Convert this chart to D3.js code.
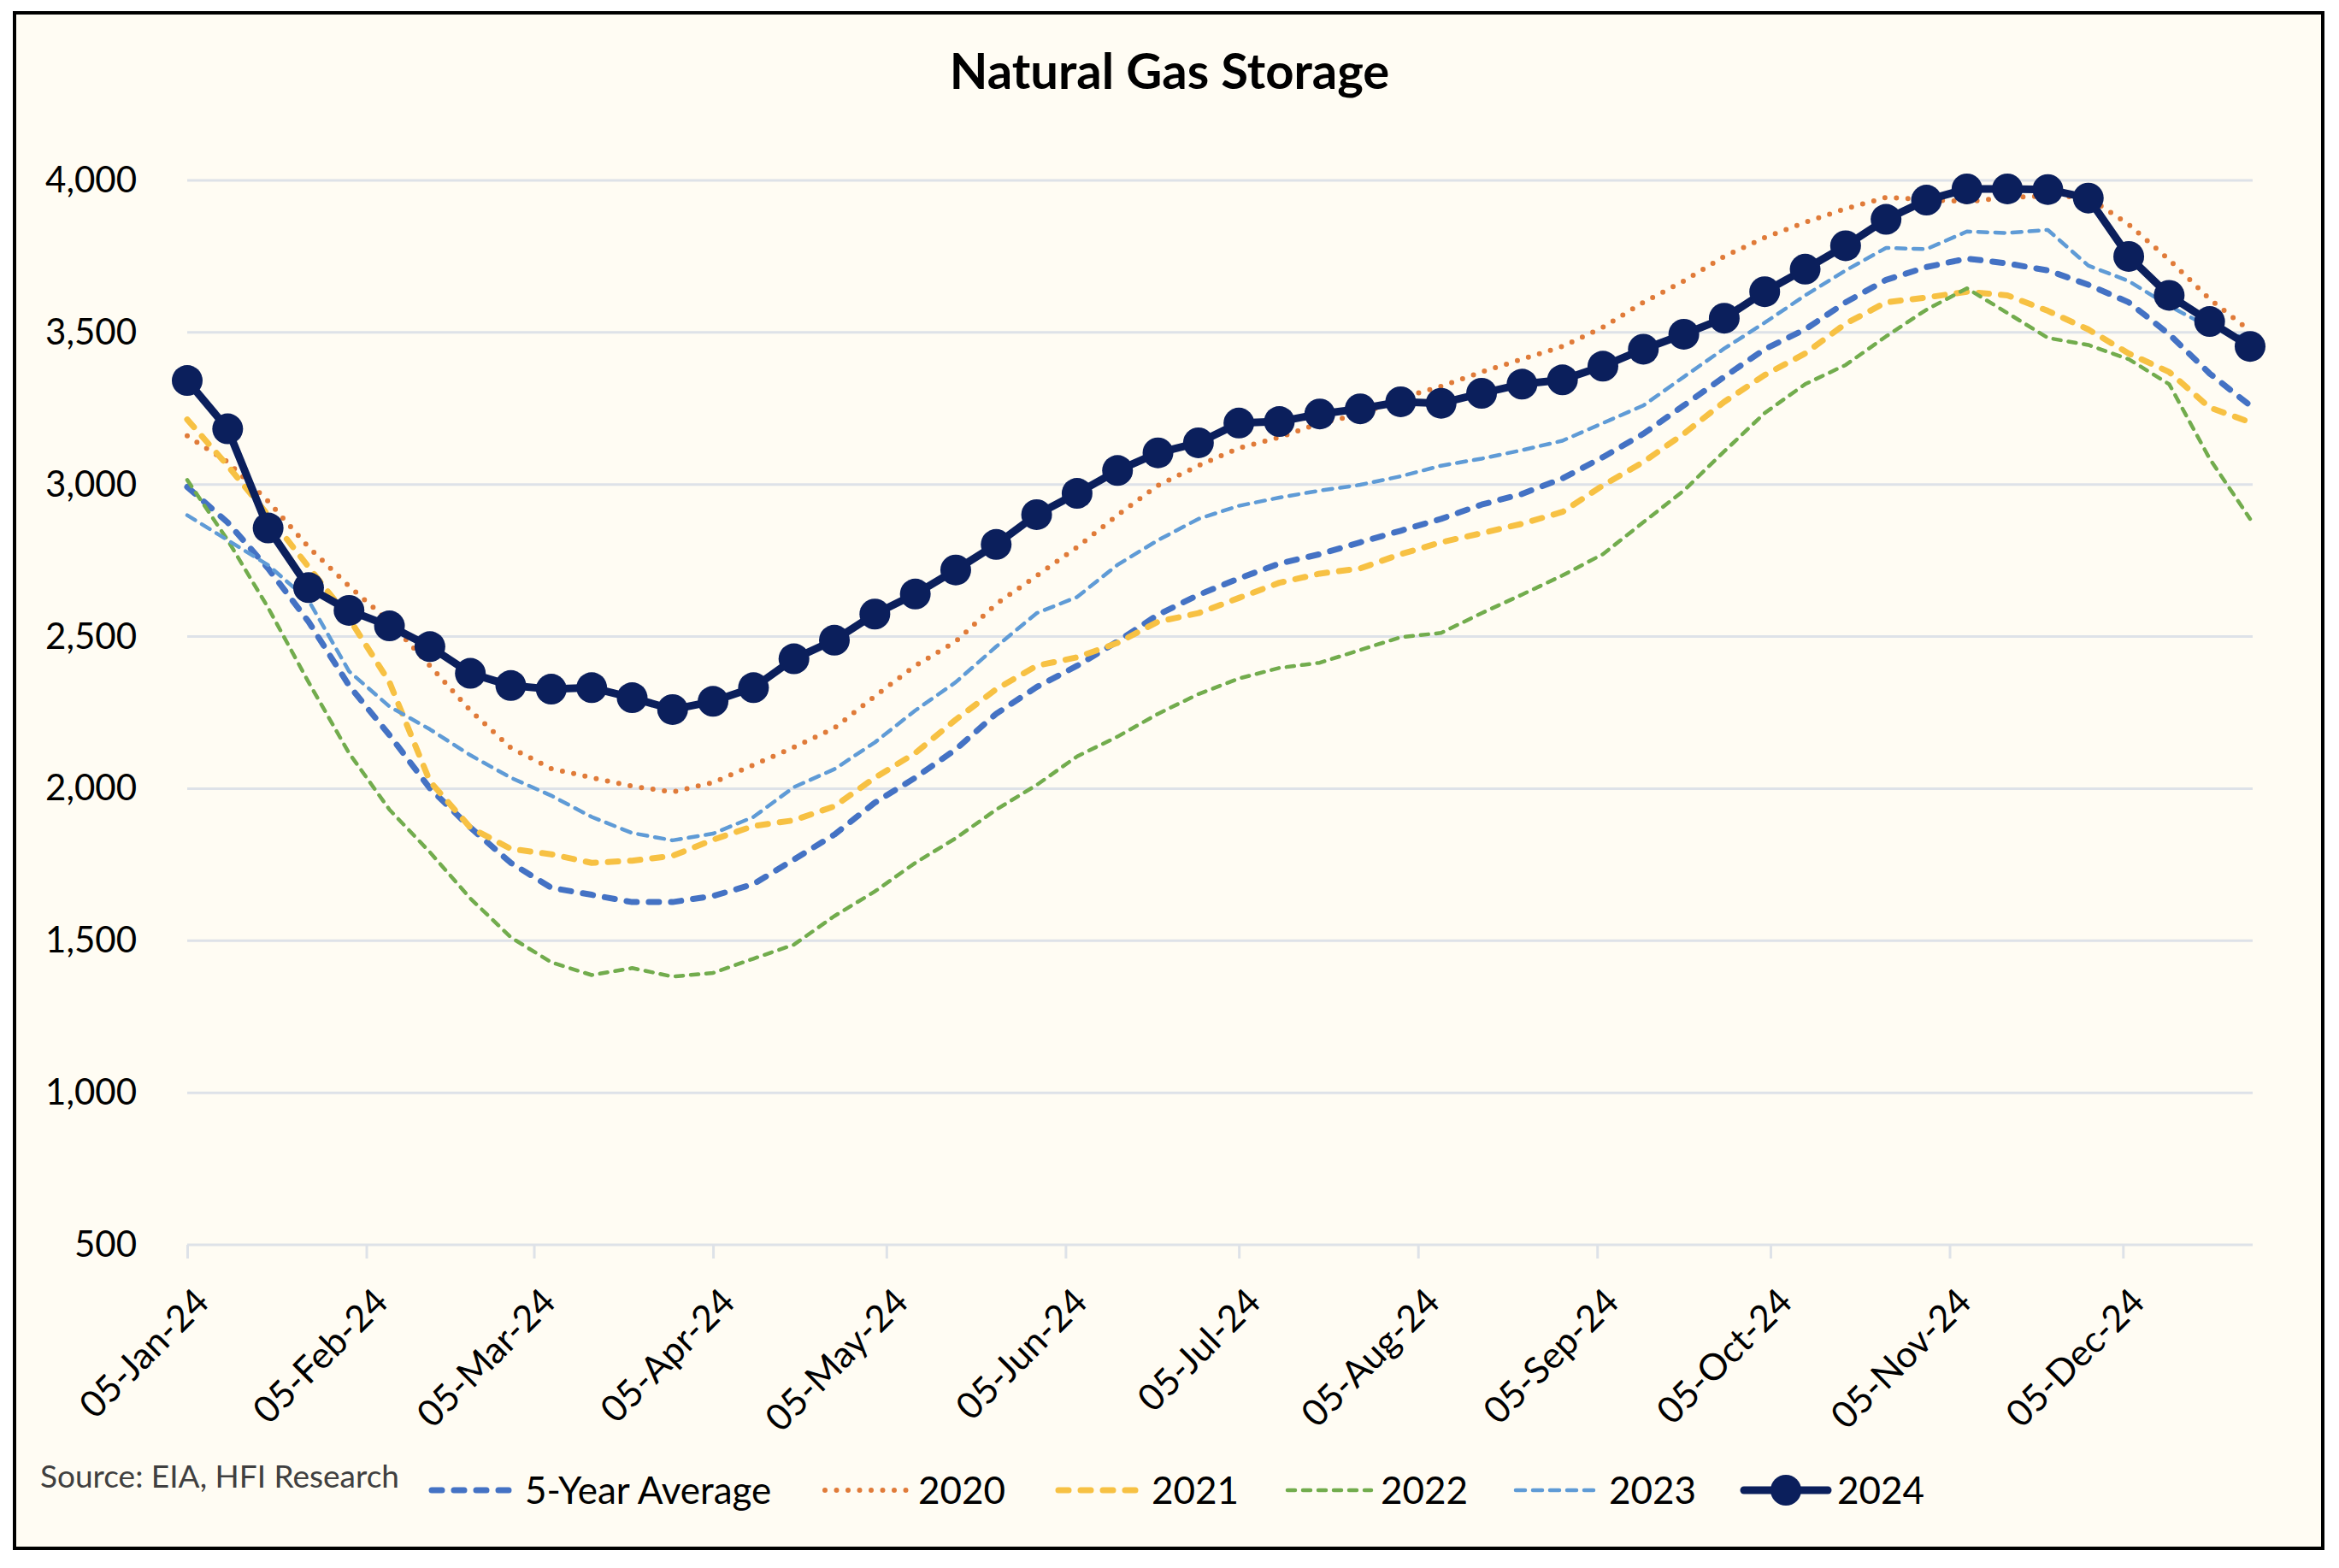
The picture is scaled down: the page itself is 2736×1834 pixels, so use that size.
<!DOCTYPE html>
<html>
<head>
<meta charset="utf-8">
<script src="https://cdn.jsdelivr.net/npm/d3@7"></script>
<style>
  html, body { margin: 0; padding: 0; background: #ffffff; }
  svg { display: block; }
  text { font-family: Lato, "Open Sans", sans-serif; }
</style>
</head>
<body>
<div id="chart"></div>
<script>
// weekly storage, Bcf (one value per week, first week ending 05-Jan)
var firstWeek = new Date(2024, 0, 5);
var weeks = d3.range(52).map(function(i) { return d3.timeDay.offset(firstWeek, 7 * i); });

var avg5 = [2992, 2875, 2724, 2549, 2339, 2176, 2001, 1872, 1756, 1674, 1651, 1627, 1627, 1647,
  1686, 1767, 1849, 1954, 2036, 2129, 2246, 2334, 2404, 2484, 2572, 2637, 2691,
  2740, 2771, 2810, 2848, 2887, 2934, 2969, 3020, 3090, 3167, 3260, 3354, 3445,
  3510, 3599, 3673, 3715, 3743, 3727, 3704, 3657, 3599, 3494, 3365, 3260];
var y2020 = [3160, 3074, 2945, 2794, 2666, 2549, 2404, 2257, 2134, 2066, 2036, 2008, 1989, 2020,
  2078, 2136, 2199, 2304, 2404, 2484, 2607, 2700, 2794, 2899, 2997, 3062, 3120,
  3155, 3202, 3230, 3284, 3323, 3370, 3412, 3454, 3517, 3599, 3669, 3750, 3812,
  3862, 3907, 3944, 3937, 3930, 3944, 3949, 3944, 3855, 3739, 3610, 3505];
var y2021 = [3214, 3062, 2899, 2729, 2560, 2350, 2024, 1872, 1802, 1784, 1756, 1763, 1779, 1832,
  1877, 1896, 1942, 2036, 2117, 2227, 2327, 2404, 2432, 2479, 2549, 2577, 2627,
  2677, 2707, 2724, 2771, 2810, 2840, 2871, 2910, 2997, 3074, 3167, 3272, 3360,
  3431, 3529, 3599, 3615, 3634, 3622, 3571, 3510, 3431, 3370, 3253, 3205];
var y2022 = [3015, 2817, 2595, 2350, 2117, 1931, 1791, 1639, 1511, 1429, 1387, 1410, 1382, 1394,
  1441, 1487, 1581, 1662, 1756, 1837, 1931, 2012, 2106, 2171, 2246, 2311, 2362,
  2397, 2414, 2456, 2498, 2512, 2577, 2638, 2701, 2771, 2876, 2980, 3109, 3235,
  3330, 3393, 3487, 3575, 3645, 3564, 3482, 3459, 3412, 3330, 3085, 2887];
var y2023 = [2899, 2817, 2735, 2619, 2386, 2270, 2195, 2110, 2036, 1977, 1907, 1854, 1830, 1852,
  1907, 2005, 2064, 2152, 2257, 2350, 2467, 2577, 2630, 2736, 2817, 2887, 2930,
  2957, 2980, 2999, 3027, 3062, 3085, 3113, 3144, 3202, 3260, 3354, 3447, 3532,
  3622, 3704, 3778, 3774, 3832, 3827, 3837, 3720, 3669, 3587, 3517, 3477];
var y2024 = [3342, 3183, 2857, 2661, 2586, 2535, 2467, 2379, 2339, 2327, 2332, 2299, 2260, 2287,
  2332, 2427, 2488, 2574, 2640, 2719, 2803, 2901, 2971, 3046, 3104, 3137, 3202,
  3207, 3232, 3249, 3272, 3267, 3300, 3330, 3344, 3389, 3445, 3494, 3547, 3634,
  3708, 3785, 3872, 3935, 3972, 3972, 3970, 3942, 3750, 3622, 3536, 3454];

var yTicks = [500, 1000, 1500, 2000, 2500, 3000, 3500, 4000];
var xTicks = d3.range(12).map(function(m) { return new Date(2024, m, 5); });

var seriesNames = ["5-Year Average", "2020", "2021", "2022", "2023", "2024"];
var seriesValues = [avg5, y2020, y2021, y2022, y2023, y2024];

// line styles per series
var styles = [
  {color: "#4472c4", width: 7,   dash: "12 14", cap: "round"},
  {color: "#e07b39", width: 6,   dash: "0 13.5", cap: "round"},
  {color: "#f7c143", width: 7,   dash: "12 14", cap: "round"},
  {color: "#72ac4d", width: 4.5, dash: "9 9",  cap: "round"},
  {color: "#5f9bd6", width: 4.5, dash: "11 9", cap: "round"},
  {color: "#0b1f5c", width: 9,   dash: null,   cap: "round"}
];

var W = 2736, H = 1834;
var svg = d3.select("#chart").append("svg")
    .attr("width", W)
    .attr("height", H);

// frame
svg.append("rect")
    .attr("x", 17).attr("y", 15)
    .attr("width", 2700).attr("height", 1796)
    .attr("fill", "#fffcf3")
    .attr("stroke", "#000")
    .attr("stroke-width", 4);

var x = d3.scaleTime()
    .domain([weeks[0], weeks[weeks.length - 1]])
    .range([219, 2632]);
var y = d3.scaleLinear()
    .domain([500, 4000])
    .range([1456, 211]);

// title
svg.append("text")
    .attr("x", 1368).attr("y", 104)
    .attr("text-anchor", "middle")
    .style("font-size", "58px")
    .style("font-weight", "bold")
    .attr("fill", "#000")
    .text("Natural Gas Storage");

// gridlines
svg.append("g").selectAll("line")
    .data(yTicks)
    .enter().append("line")
    .attr("x1", 219).attr("x2", 2635)
    .attr("y1", function(d) { return y(d); })
    .attr("y2", function(d) { return y(d); })
    .attr("stroke", "#dee2e8")
    .attr("stroke-width", 3);

// y axis labels
var yAxis = d3.axisLeft(y).tickValues(yTicks).tickFormat(d3.format(",")).tickSize(0).tickPadding(0);
var gy = svg.append("g").attr("transform", "translate(160,0)").call(yAxis);
gy.select(".domain").remove();
gy.selectAll("text")
    .style("font-size", "42px")
    .attr("fill", "#000");

// x axis ticks + labels
var xAxis = d3.axisBottom(x).tickValues(xTicks).tickFormat(d3.timeFormat("%d-%b-%y")).tickSize(16);
var gx = svg.append("g").attr("transform", "translate(0," + y(500) + ")").call(xAxis);
gx.select(".domain").remove();
gx.selectAll(".tick line").attr("stroke", "#dee2e8").attr("stroke-width", 3);
gx.selectAll("text")
    .style("font-size", "43px")
    .attr("fill", "#000")
    .attr("text-anchor", "end")
    .attr("dy", 0)
    .attr("transform", "translate(14,56) rotate(-45)");

// series lines
var line = d3.line()
    .x(function(d, i) { return x(weeks[i]); })
    .y(function(d) { return y(d); });

svg.append("g").selectAll("path")
    .data(seriesValues)
    .enter().append("path")
    .attr("d", function(d) { return line(d); })
    .attr("fill", "none")
    .attr("stroke", function(d, i) { return styles[i].color; })
    .attr("stroke-width", function(d, i) { return styles[i].width; })
    .attr("stroke-dasharray", function(d, i) { return styles[i].dash; })
    .attr("stroke-linecap", function(d, i) { return styles[i].cap; })
    .attr("stroke-linejoin", "round");

// 2024 markers
svg.append("g").selectAll("circle")
    .data(y2024)
    .enter().append("circle")
    .attr("cx", function(d, i) { return x(weeks[i]); })
    .attr("cy", function(d) { return y(d); })
    .attr("r", 18)
    .attr("fill", "#0b1f5c");

// source note
svg.append("text")
    .attr("x", 47).attr("y", 1740)
    .style("font-size", "37px")
    .attr("fill", "#404040")
    .text("Source: EIA, HFI Research");

// legend
var legendX = [501, 961, 1234, 1502, 1769, 2036];
var legY = 1743;
var leg = svg.append("g").selectAll("g")
    .data(seriesNames)
    .enter().append("g")
    .attr("transform", function(d, i) { return "translate(" + legendX[i] + "," + legY + ")"; });

leg.append("line")
    .attr("x1", 4).attr("x2", 102)
    .attr("y1", 0).attr("y2", 0)
    .attr("stroke", function(d, i) { return styles[i].color; })
    .attr("stroke-width", function(d, i) { return styles[i].width; })
    .attr("stroke-dasharray", function(d, i) { return styles[i].dash; })
    .attr("stroke-linecap", function(d, i) { return styles[i].cap; });

leg.filter(function(d, i) { return i === 5; })
    .append("circle")
    .attr("cx", 53).attr("cy", 0).attr("r", 18)
    .attr("fill", "#0b1f5c");

leg.append("text")
    .attr("x", 113).attr("y", 0)
    .attr("dy", "0.36em")
    .style("font-size", "44px")
    .attr("fill", "#000")
    .text(function(d) { return d; });
</script>
</body>
</html>
